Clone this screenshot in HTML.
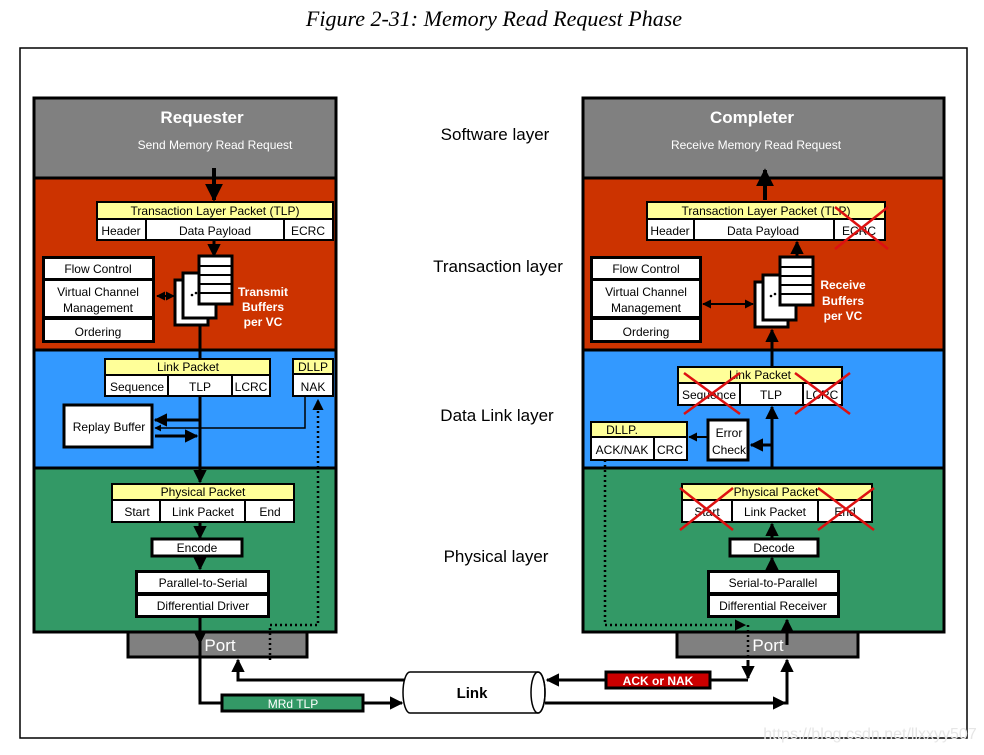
<!DOCTYPE html>
<html><head><meta charset="utf-8"><style>
html,body{margin:0;padding:0;background:#fff;width:984px;height:755px;overflow:hidden}
svg{display:block}
text{font-family:"Liberation Sans",Arial,sans-serif}
</style></head><body>
<svg width="984" height="755" viewBox="0 0 984 755" xmlns="http://www.w3.org/2000/svg">
<defs>
<marker id="a" viewBox="0 0 10 10" refX="9" refY="5" markerWidth="4.5" markerHeight="4.5" orient="auto-start-reverse"><path d="M0,0 L10,5 L0,10 z" fill="#000"/></marker>
</defs>
<text x="494" y="26" text-anchor="middle" font-style="italic" font-size="22" style="font-family:'Liberation Serif',serif">Figure 2-31: Memory Read Request Phase</text>
<rect x="20" y="48" width="947" height="690" fill="none" stroke="#000" stroke-width="1.5"/>

<!-- LEFT PANEL -->
<g stroke="#000" stroke-width="3">
<rect x="34" y="98" width="302" height="80" fill="#808080"/>
<rect x="34" y="178" width="302" height="172" fill="#CC3300"/>
<rect x="34" y="350" width="302" height="118" fill="#3399FF"/>
<rect x="34" y="468" width="302" height="164" fill="#339966"/>
<rect x="128" y="632" width="179" height="25" fill="#808080"/>
</g>
<text x="202" y="123" text-anchor="middle" fill="#fff" font-size="17" font-weight="bold">Requester</text>
<text x="215" y="149" text-anchor="middle" fill="#fff" font-size="12">Send Memory Read Request</text>
<line x1="214" y1="168" x2="214" y2="200" stroke="#000" stroke-width="4" marker-end="url(#a)"/>
<g stroke="#000" stroke-width="2">
<rect x="97" y="202" width="236" height="17" fill="#FFFF99"/>
<rect x="97" y="219" width="236" height="21" fill="#fff"/>
<line x1="146" y1="219" x2="146" y2="240"/><line x1="284" y1="219" x2="284" y2="240"/>
</g>
<g font-size="12" text-anchor="middle">
<text x="215" y="215">Transaction Layer Packet (TLP)</text>
<text x="121" y="235">Header</text><text x="215" y="235">Data Payload</text><text x="308" y="235">ECRC</text>
</g>
<line x1="214" y1="240" x2="214" y2="256" stroke="#000" stroke-width="3" marker-end="url(#a)"/>
<rect x="42" y="256" width="113" height="87" fill="#000"/>
<g fill="#fff"><rect x="45" y="259" width="107" height="19"/><rect x="45" y="281" width="107" height="35"/><rect x="45" y="320" width="107" height="20"/></g>
<g font-size="12" text-anchor="middle">
<text x="98" y="273">Flow Control</text><text x="98" y="296">Virtual Channel</text><text x="98" y="312">Management</text><text x="98" y="336">Ordering</text>
</g>
<g stroke="#000" stroke-width="3" fill="#fff">
<rect x="175" y="280" width="33" height="45"/>
<rect x="183" y="273" width="33" height="45"/>
<rect x="199" y="256" width="33" height="48"/>
</g>
<g stroke="#000" stroke-width="2"><line x1="199" y1="266" x2="232" y2="266"/><line x1="199" y1="275" x2="232" y2="275"/><line x1="199" y1="284" x2="232" y2="284"/><line x1="199" y1="293" x2="232" y2="293"/></g>
<circle cx="192" cy="295" r="1.3"/><circle cx="196" cy="293" r="1.3"/>
<line x1="157" y1="296" x2="174" y2="296" stroke="#000" stroke-width="2" marker-start="url(#a)" marker-end="url(#a)"/>
<g font-size="12" font-weight="bold" fill="#fff" text-anchor="middle"><text x="263" y="296">Transmit</text><text x="263" y="311">Buffers</text><text x="263" y="326">per VC</text></g>
<line x1="200" y1="325" x2="200" y2="482" stroke="#000" stroke-width="3" marker-end="url(#a)"/>
<g stroke="#000" stroke-width="2">
<rect x="105" y="359" width="165" height="16" fill="#FFFF99"/>
<rect x="105" y="375" width="165" height="21" fill="#fff"/>
<line x1="168" y1="375" x2="168" y2="396"/><line x1="232" y1="375" x2="232" y2="396"/>
<rect x="293" y="359" width="40" height="15" fill="#FFFF99"/>
<rect x="293" y="374" width="40" height="22" fill="#fff"/>
</g>
<g font-size="12" text-anchor="middle">
<text x="188" y="371">Link Packet</text><text x="137" y="391">Sequence</text><text x="200" y="391">TLP</text><text x="251" y="391">LCRC</text>
<text x="313" y="371">DLLP</text><text x="313" y="391">NAK</text>
</g>
<rect x="64" y="405" width="88" height="42" fill="#fff" stroke="#000" stroke-width="3"/>
<text x="109" y="431" font-size="12" text-anchor="middle">Replay Buffer</text>
<line x1="200" y1="420" x2="155" y2="420" stroke="#000" stroke-width="3" marker-end="url(#a)"/>
<polyline points="305,396 305,428 155,428" fill="none" stroke="#000" stroke-width="1.5" marker-end="url(#a)"/>
<line x1="155" y1="436" x2="197" y2="436" stroke="#000" stroke-width="3" marker-end="url(#a)"/>
<polyline points="270,660 270,625 318,625 318,400" fill="none" stroke="#000" stroke-width="2.5" stroke-dasharray="2,3" marker-end="url(#a)"/>
<g stroke="#000" stroke-width="2">
<rect x="112" y="484" width="182" height="16" fill="#FFFF99"/>
<rect x="112" y="500" width="182" height="22" fill="#fff"/>
<line x1="160" y1="500" x2="160" y2="522"/><line x1="245" y1="500" x2="245" y2="522"/>
</g>
<g font-size="12" text-anchor="middle">
<text x="203" y="496">Physical Packet</text><text x="137" y="516">Start</text><text x="203" y="516">Link Packet</text><text x="270" y="516">End</text>
</g>
<line x1="200" y1="522" x2="200" y2="538" stroke="#000" stroke-width="3" marker-end="url(#a)"/>
<rect x="152" y="539" width="90" height="17" fill="#fff" stroke="#000" stroke-width="3"/>
<text x="197" y="552" font-size="12" text-anchor="middle">Encode</text>
<line x1="200" y1="556" x2="200" y2="569" stroke="#000" stroke-width="3" marker-end="url(#a)"/>
<rect x="135" y="570" width="135" height="48" fill="#000"/>
<rect x="138" y="573" width="129" height="19" fill="#fff"/><rect x="138" y="596" width="129" height="19" fill="#fff"/>
<g font-size="12" text-anchor="middle"><text x="203" y="587">Parallel-to-Serial</text><text x="203" y="610">Differential Driver</text></g>
<text x="220" y="651" font-size="17" fill="#fff" text-anchor="middle">Port</text>
<polyline points="200,618 200,703 222,703" fill="none" stroke="#000" stroke-width="3"/>
<line x1="200" y1="618" x2="200" y2="643" stroke="#000" stroke-width="3" marker-end="url(#a)"/>
<rect x="222" y="695" width="141" height="16" fill="#339966" stroke="#000" stroke-width="3"/>
<text x="293" y="708" font-size="12" fill="#fff" text-anchor="middle">MRd TLP</text>
<line x1="363" y1="703" x2="402" y2="703" stroke="#000" stroke-width="3" marker-end="url(#a)"/>
<polyline points="405,680 238,680 238,660" fill="none" stroke="#000" stroke-width="3" marker-end="url(#a)"/>

<!-- LINK -->
<path d="M410,672 L538,672 A7,20.5 0 0 1 538,713 L410,713 A7,20.5 0 0 1 410,672 z" fill="#fff" stroke="#000" stroke-width="1.5"/>
<ellipse cx="538" cy="692.5" rx="7" ry="20.5" fill="none" stroke="#000" stroke-width="1.5"/>
<text x="472" y="698" font-size="15" font-weight="bold" text-anchor="middle">Link</text>

<!-- MIDDLE LABELS -->
<g font-size="17" text-anchor="middle">
<text x="495" y="140">Software layer</text><text x="498" y="272">Transaction layer</text>
<text x="497" y="421">Data Link layer</text><text x="496" y="562">Physical layer</text>
</g>

<!-- RIGHT PANEL -->
<g stroke="#000" stroke-width="3">
<rect x="583" y="98" width="361" height="80" fill="#808080"/>
<rect x="583" y="178" width="361" height="172" fill="#CC3300"/>
<rect x="583" y="350" width="361" height="118" fill="#3399FF"/>
<rect x="583" y="468" width="361" height="164" fill="#339966"/>
<rect x="677" y="632" width="181" height="25" fill="#808080"/>
</g>
<text x="752" y="123" text-anchor="middle" fill="#fff" font-size="17" font-weight="bold">Completer</text>
<text x="756" y="149" text-anchor="middle" fill="#fff" font-size="12">Receive Memory Read Request</text>
<line x1="765" y1="200" x2="765" y2="170" stroke="#000" stroke-width="4" marker-end="url(#a)"/>
<g stroke="#000" stroke-width="2">
<rect x="647" y="202" width="238" height="17" fill="#FFFF99"/>
<rect x="647" y="219" width="238" height="21" fill="#fff"/>
<line x1="694" y1="219" x2="694" y2="240"/><line x1="834" y1="219" x2="834" y2="240"/>
</g>
<g font-size="12" text-anchor="middle">
<text x="766" y="215">Transaction Layer Packet (TLP)</text>
<text x="670" y="235">Header</text><text x="763" y="235">Data Payload</text><text x="859" y="235">ECRC</text>
</g>
<line x1="797" y1="256" x2="797" y2="242" stroke="#000" stroke-width="3" marker-end="url(#a)"/>
<rect x="590" y="256" width="112" height="87" fill="#000"/>
<g fill="#fff"><rect x="593" y="259" width="106" height="19"/><rect x="593" y="281" width="106" height="35"/><rect x="593" y="320" width="106" height="20"/></g>
<g font-size="12" text-anchor="middle">
<text x="646" y="273">Flow Control</text><text x="646" y="296">Virtual Channel</text><text x="646" y="312">Management</text><text x="646" y="336">Ordering</text>
</g>
<g stroke="#000" stroke-width="3" fill="#fff">
<rect x="755" y="282" width="33" height="45"/>
<rect x="763" y="275" width="33" height="45"/>
<rect x="780" y="257" width="33" height="48"/>
</g>
<g stroke="#000" stroke-width="2"><line x1="780" y1="267" x2="813" y2="267"/><line x1="780" y1="276" x2="813" y2="276"/><line x1="780" y1="285" x2="813" y2="285"/><line x1="780" y1="294" x2="813" y2="294"/></g>
<circle cx="771" cy="296" r="1.3"/><circle cx="775" cy="294" r="1.3"/>
<line x1="703" y1="304" x2="753" y2="304" stroke="#000" stroke-width="2" marker-start="url(#a)" marker-end="url(#a)"/>
<g font-size="12" font-weight="bold" fill="#fff" text-anchor="middle"><text x="843" y="289">Receive</text><text x="843" y="305">Buffers</text><text x="843" y="320">per VC</text></g>
<line x1="772" y1="367" x2="772" y2="330" stroke="#000" stroke-width="3" marker-end="url(#a)"/>
<g stroke="#000" stroke-width="2">
<rect x="678" y="367" width="164" height="16" fill="#FFFF99"/>
<rect x="678" y="383" width="164" height="22" fill="#fff"/>
<line x1="740" y1="383" x2="740" y2="405"/><line x1="803" y1="383" x2="803" y2="405"/>
</g>
<g font-size="12" text-anchor="middle">
<text x="760" y="379">Link Packet</text><text x="709" y="399">Sequence</text><text x="771" y="399">TLP</text><text x="822" y="399">LCRC</text>
</g>
<line x1="772" y1="468" x2="772" y2="407" stroke="#000" stroke-width="3" marker-end="url(#a)"/>
<g stroke="#000" stroke-width="2">
<rect x="591" y="422" width="96" height="15" fill="#FFFF99"/>
<rect x="591" y="437" width="96" height="23" fill="#fff"/>
<line x1="654" y1="437" x2="654" y2="460"/>
</g>
<g font-size="12" text-anchor="middle">
<text x="622" y="434">DLLP.</text><text x="622" y="454">ACK/NAK</text><text x="670" y="454">CRC</text>
</g>
<rect x="708" y="420" width="40" height="40" fill="#fff" stroke="#000" stroke-width="3"/>
<g font-size="12" text-anchor="middle"><text x="729" y="437">Error</text><text x="729" y="454">Check</text></g>
<line x1="772" y1="445" x2="751" y2="445" stroke="#000" stroke-width="3" marker-end="url(#a)"/>
<line x1="708" y1="437" x2="689" y2="437" stroke="#000" stroke-width="2" marker-end="url(#a)"/>
<polyline points="605,460 605,625 745,625" fill="none" stroke="#000" stroke-width="2.5" stroke-dasharray="2,3" marker-end="url(#a)"/>
<line x1="748" y1="625" x2="748" y2="660" stroke="#000" stroke-width="2.5" stroke-dasharray="2,3"/>
<g stroke="#000" stroke-width="2">
<rect x="682" y="484" width="190" height="16" fill="#FFFF99"/>
<rect x="682" y="500" width="190" height="22" fill="#fff"/>
<line x1="732" y1="500" x2="732" y2="522"/><line x1="818" y1="500" x2="818" y2="522"/>
</g>
<g font-size="12" text-anchor="middle">
<text x="776" y="496">Physical Packet</text><text x="707" y="516">Start</text><text x="775" y="516">Link Packet</text><text x="845" y="516">End</text>
</g>
<line x1="772" y1="539" x2="772" y2="524" stroke="#000" stroke-width="3" marker-end="url(#a)"/>
<rect x="730" y="539" width="88" height="17" fill="#fff" stroke="#000" stroke-width="3"/>
<text x="774" y="552" font-size="12" text-anchor="middle">Decode</text>
<line x1="772" y1="570" x2="772" y2="558" stroke="#000" stroke-width="3" marker-end="url(#a)"/>
<rect x="707" y="570" width="133" height="48" fill="#000"/>
<rect x="710" y="573" width="127" height="19" fill="#fff"/><rect x="710" y="596" width="127" height="19" fill="#fff"/>
<g font-size="12" text-anchor="middle"><text x="773" y="587">Serial-to-Parallel</text><text x="773" y="610">Differential Receiver</text></g>
<text x="768" y="651" font-size="17" fill="#fff" text-anchor="middle">Port</text>
<line x1="787" y1="645" x2="787" y2="620" stroke="#000" stroke-width="3" marker-end="url(#a)"/>
<polyline points="545,703 787,703 787,660" fill="none" stroke="#000" stroke-width="3" marker-end="url(#a)"/>
<line x1="780" y1="703" x2="785" y2="703" stroke="#000" stroke-width="3" marker-end="url(#a)"/>
<polyline points="710,680 748,680" fill="none" stroke="#000" stroke-width="3"/>
<line x1="748" y1="660" x2="748" y2="678" stroke="#000" stroke-width="3" marker-end="url(#a)"/>
<rect x="606" y="672" width="104" height="16" fill="#CC0000" stroke="#000" stroke-width="3"/>
<text x="658" y="685" font-size="12" font-weight="bold" fill="#fff" text-anchor="middle">ACK or NAK</text>
<line x1="606" y1="680" x2="547" y2="680" stroke="#000" stroke-width="3" marker-end="url(#a)"/>

<!-- RED X's -->
<g stroke="#DD1111" stroke-width="2.5">
<line x1="835" y1="207" x2="888" y2="249"/><line x1="888" y1="207" x2="835" y2="249"/>
<line x1="684" y1="373" x2="740" y2="414"/><line x1="740" y1="373" x2="684" y2="414"/>
<line x1="795" y1="373" x2="850" y2="414"/><line x1="850" y1="373" x2="795" y2="414"/>
<line x1="680" y1="488" x2="733" y2="530"/><line x1="733" y1="488" x2="680" y2="530"/>
<line x1="818" y1="488" x2="874" y2="530"/><line x1="874" y1="488" x2="818" y2="530"/>
</g>
<text x="870" y="739" font-size="16" fill="#e6e6e6" text-anchor="middle">https://blog.csdn.net/llxxyy507</text>
</svg>
</body></html>
